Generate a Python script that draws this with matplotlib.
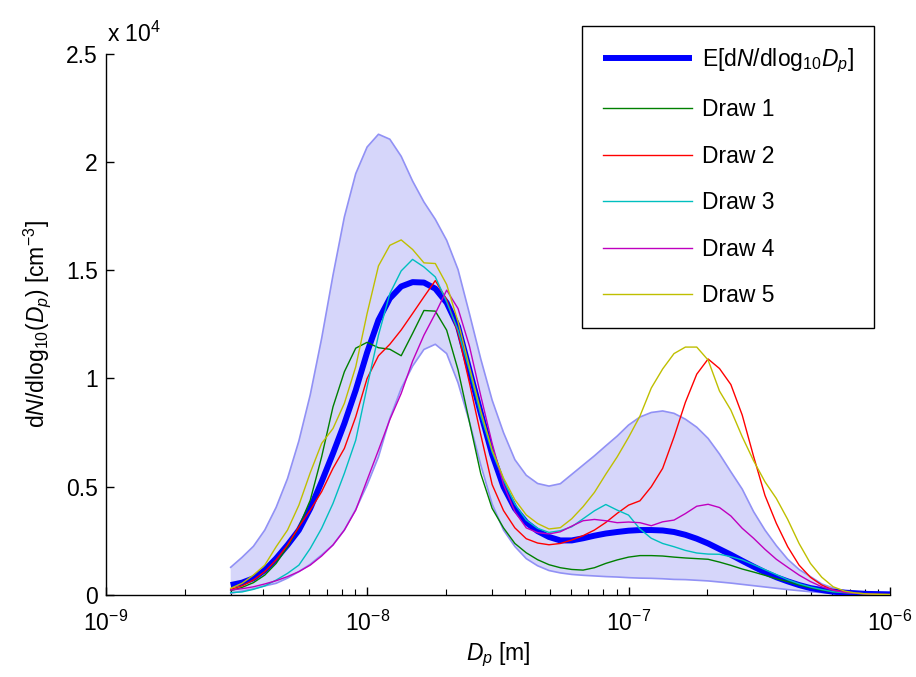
import numpy as np
import matplotlib
matplotlib.use("Agg")
import matplotlib.pyplot as plt
from matplotlib.ticker import LogLocator, FixedLocator, FuncFormatter, NullFormatter

plt.rcParams['font.family'] = ['Liberation Sans', 'DejaVu Sans']
plt.rcParams['mathtext.fontset'] = 'custom'
plt.rcParams['mathtext.rm'] = 'Liberation Sans'
plt.rcParams['mathtext.it'] = 'Liberation Sans:italic'
plt.rcParams['mathtext.bf'] = 'Liberation Sans:bold'

# ---- data (values in units of 1e4 cm^-3) ----
SCALE = 1e4
dp = np.logspace(np.log10(3e-9), -6, 59)   # particle diameter grid [m]

upper = [0.128, 0.174, 0.225, 0.300, 0.405, 0.538, 0.712, 0.925, 1.185, 1.477,
         1.746, 1.946, 2.069, 2.128, 2.105, 2.026, 1.912, 1.815, 1.735, 1.638,
         1.503, 1.300, 1.090, 0.900, 0.750, 0.625, 0.553, 0.515, 0.503, 0.514,
         0.557, 0.600, 0.643, 0.689, 0.734, 0.785, 0.822, 0.843, 0.850, 0.839,
         0.812, 0.775, 0.723, 0.651, 0.569, 0.489, 0.385, 0.300, 0.228, 0.165,
         0.118, 0.085, 0.051, 0.032, 0.020, 0.009, 0.006, 0.003, 0.002]
lower = [0.008, 0.018, 0.029, 0.042, 0.054, 0.078, 0.108, 0.142, 0.185, 0.231,
         0.300, 0.395, 0.508, 0.638, 0.815, 0.954, 1.057, 1.134, 1.158, 1.115,
         0.980, 0.800, 0.600, 0.420, 0.300, 0.224, 0.168, 0.135, 0.113, 0.102,
         0.095, 0.091, 0.088, 0.085, 0.083, 0.080, 0.078, 0.077, 0.075, 0.072,
         0.071, 0.068, 0.065, 0.060, 0.055, 0.049, 0.043, 0.037, 0.031, 0.025,
         0.020, 0.015, 0.011, 0.008, 0.006, 0.005, 0.004, 0.003, 0.002]
mean = [0.046, 0.057, 0.077, 0.115, 0.169, 0.231, 0.300, 0.400, 0.523, 0.654,
        0.792, 0.946, 1.120, 1.270, 1.370, 1.425, 1.445, 1.443, 1.415, 1.350,
        1.240, 1.040, 0.840, 0.650, 0.500, 0.400, 0.335, 0.295, 0.268, 0.252,
        0.252, 0.262, 0.274, 0.284, 0.291, 0.297, 0.300, 0.300, 0.298, 0.291,
        0.278, 0.260, 0.238, 0.212, 0.186, 0.158, 0.131, 0.105, 0.082, 0.063,
        0.046, 0.032, 0.023, 0.015, 0.011, 0.008, 0.005, 0.004, 0.003]
draw1 = [0.020, 0.035, 0.057, 0.092, 0.146, 0.223, 0.315, 0.438, 0.638, 0.869,
         1.031, 1.140, 1.167, 1.142, 1.135, 1.105, 1.208, 1.314, 1.311, 1.223,
         1.040, 0.800, 0.560, 0.400, 0.310, 0.238, 0.195, 0.163, 0.140, 0.126,
         0.118, 0.115, 0.126, 0.146, 0.162, 0.175, 0.182, 0.182, 0.180, 0.175,
         0.171, 0.168, 0.165, 0.152, 0.137, 0.120, 0.106, 0.091, 0.075, 0.062,
         0.046, 0.034, 0.023, 0.015, 0.011, 0.008, 0.005, 0.003, 0.002]
draw2 = [0.026, 0.042, 0.069, 0.108, 0.162, 0.231, 0.315, 0.392, 0.477, 0.585,
         0.677, 0.823, 1.000, 1.105, 1.158, 1.224, 1.300, 1.377, 1.452, 1.365,
         1.210, 0.980, 0.740, 0.510, 0.390, 0.310, 0.260, 0.240, 0.232, 0.238,
         0.254, 0.274, 0.300, 0.335, 0.377, 0.415, 0.435, 0.500, 0.585, 0.730,
         0.890, 1.020, 1.090, 1.046, 0.972, 0.831, 0.640, 0.460, 0.331, 0.223,
         0.138, 0.082, 0.046, 0.023, 0.014, 0.008, 0.005, 0.003, 0.002]
draw3 = [0.011, 0.014, 0.026, 0.042, 0.069, 0.100, 0.138, 0.215, 0.308, 0.423,
         0.562, 0.715, 0.962, 1.200, 1.392, 1.497, 1.550, 1.515, 1.469, 1.354,
         1.223, 1.038, 0.830, 0.660, 0.530, 0.420, 0.346, 0.308, 0.289, 0.297,
         0.315, 0.352, 0.389, 0.418, 0.392, 0.369, 0.305, 0.262, 0.238, 0.223,
         0.206, 0.194, 0.189, 0.188, 0.177, 0.162, 0.140, 0.117, 0.094, 0.071,
         0.052, 0.037, 0.025, 0.015, 0.011, 0.008, 0.005, 0.003, 0.002]
draw4 = [0.023, 0.029, 0.038, 0.051, 0.066, 0.085, 0.108, 0.138, 0.180, 0.231,
         0.300, 0.392, 0.531, 0.669, 0.810, 0.931, 1.080, 1.200, 1.300, 1.408,
         1.323, 1.150, 0.920, 0.700, 0.510, 0.385, 0.310, 0.288, 0.282, 0.292,
         0.318, 0.343, 0.349, 0.343, 0.334, 0.337, 0.334, 0.320, 0.338, 0.346,
         0.376, 0.410, 0.419, 0.404, 0.365, 0.308, 0.262, 0.211, 0.165, 0.128,
         0.092, 0.062, 0.038, 0.022, 0.012, 0.008, 0.005, 0.003, 0.002]
draw5 = [0.031, 0.054, 0.092, 0.138, 0.223, 0.300, 0.415, 0.565, 0.700, 0.769,
         0.885, 1.054, 1.300, 1.520, 1.615, 1.640, 1.596, 1.534, 1.531, 1.434,
         1.262, 1.054, 0.850, 0.670, 0.540, 0.440, 0.370, 0.330, 0.305, 0.311,
         0.352, 0.408, 0.474, 0.558, 0.638, 0.728, 0.826, 0.956, 1.044, 1.115,
         1.145, 1.145, 1.085, 0.942, 0.854, 0.731, 0.620, 0.523, 0.446, 0.349,
         0.238, 0.146, 0.082, 0.038, 0.018, 0.009, 0.005, 0.003, 0.002]

draws = [draw1, draw2, draw3, draw4, draw5]
draw_labels = ['Draw 1', 'Draw 2', 'Draw 3', 'Draw 4', 'Draw 5']
draw_colors = [(0, 0.5, 0), (1, 0, 0), (0, 0.75, 0.75), (0.75, 0, 0.75), (0.75, 0.75, 0)]

yticks = [0, 0.5, 1, 1.5, 2, 2.5]
xticks = [1e-9, 1e-8, 1e-7, 1e-6]

FS = 16.5
W, H = 916, 677
fig = plt.figure(figsize=(W / 100, H / 100), dpi=100)
ax = fig.add_axes([106 / W, 1 - 595 / H, 784 / W, 541.3 / H])

up = np.array(upper) * SCALE
lo = np.array(lower) * SCALE
ax.fill_between(dp, lo, up, facecolor='#d6d6fa', edgecolor='none', zorder=1)
ax.plot(dp, up, color='#9191f5', lw=1.2, zorder=2)
ax.plot(dp, lo, color='#9191f5', lw=1.2, zorder=2)
ax.plot(dp, np.array(mean) * SCALE, color='#0000ff', lw=4.3, zorder=3,
        label=r'E[d$N$/dlog$_{10}$$D_p$]', solid_capstyle='butt')
for d, lab, c in zip(draws, draw_labels, draw_colors):
    ax.plot(dp, np.array(d) * SCALE, color=c, lw=1.0, zorder=4, label=lab)

ax.set_xscale('log')
ax.set_xlim(1e-9, 1e-6)
ax.set_ylim(0, 2.5 * SCALE)
ax.xaxis.set_major_locator(FixedLocator(xticks))
ax.xaxis.set_minor_locator(LogLocator(base=10, subs=np.arange(2, 10)))
ax.xaxis.set_minor_formatter(NullFormatter())
ax.xaxis.set_major_formatter(FuncFormatter(lambda v, p: r'$10^{%d}$' % round(np.log10(v))))
ax.yaxis.set_major_locator(FixedLocator([t * SCALE for t in yticks]))
ax.yaxis.set_major_formatter(FuncFormatter(lambda v, p: ('%g' % (v / SCALE))))

for s in ['top', 'right']:
    ax.spines[s].set_visible(False)
for s in ['left', 'bottom']:
    ax.spines[s].set_linewidth(1.0)
ax.tick_params(axis='both', which='major', direction='in', length=6, width=1.0,
               labelsize=FS, top=False, right=False)
ax.tick_params(axis='x', which='minor', direction='in', length=4, width=0.8, top=False)
ax.tick_params(axis='x', which='major', pad=11)
ax.tick_params(axis='y', which='major', pad=6)

ax.text(0.001, 1.012, r'x 10$^{4}$', transform=ax.transAxes, ha='left', va='bottom', fontsize=FS)

ax.set_xlabel(r'$D_p$ [m]', fontsize=FS, labelpad=4)
ax.set_ylabel(r'd$N$/dlog$_{10}$($D_p$) [cm$^{-3}$]', fontsize=FS, labelpad=9)

leg = ax.legend(loc='upper right', bbox_to_anchor=(0.98, 1.051), fontsize=FS,
                frameon=True, fancybox=False, framealpha=1, edgecolor='black',
                handlelength=3.9, handletextpad=0.42, labelspacing=1.02,
                borderpad=0.9, borderaxespad=0.0)
leg.get_frame().set_linewidth(1.0)

fig.savefig('out.png', dpi=100)
